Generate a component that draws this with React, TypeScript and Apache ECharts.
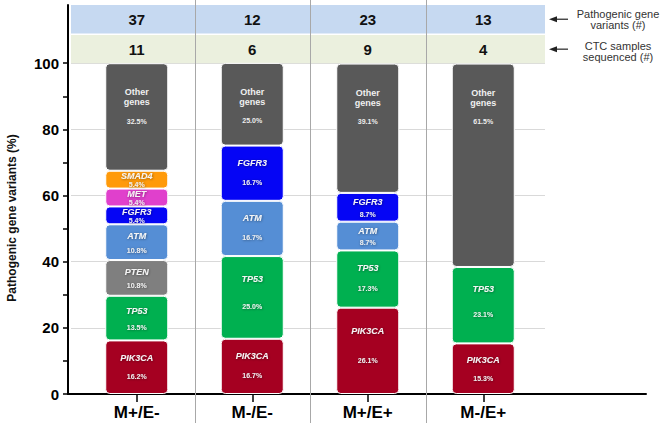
import React, { useEffect, useRef } from 'react';
import * as echarts from 'echarts';

// ---------- data ----------
const categories = ['M+/E-', 'M-/E-', 'M+/E+', 'M-/E+'];
const pathogenicVariants = [37, 12, 23, 13];
const ctcSamplesSequenced = [11, 6, 9, 4];

const geneNames = ['PIK3CA', 'TP53', 'PTEN', 'ATM', 'FGFR3', 'MET', 'SMAD4', 'Other genes'];
const pik3ca = [16.2, 16.7, 26.1, 15.3];
const tp53 = [13.5, 25.0, 17.3, 23.1];
const pten = [10.8, null, null, null];
const atm = [10.8, 16.7, 8.7, null];
const fgfr3 = [5.4, 16.7, 8.7, null];
const met = [5.4, null, null, null];
const smad4 = [5.4, null, null, null];
const otherGenes = [32.5, 25.0, 39.1, 61.5];
const geneValues = [pik3ca, tp53, pten, atm, fgfr3, met, smad4, otherGenes];
const geneColors = ['#a50021', '#00b050', '#7f7f7f', '#558ed5', '#0505f5', '#e040cc', '#ff9a0a', '#595959'];

const yTickLabels = [0, 20, 40, 60, 80, 100];
const yMinorTicks = [0, 10, 20, 30, 40, 50, 60, 70, 80, 90, 100];

// ---------- layout constants ----------
const Y_MAX = 117.6;
const CTC_BAND = [100, 108.5];
const PATH_BAND = [109.0, Y_MAX];
const FONT = 'Liberation Sans, Arial, Helvetica, sans-serif';

function geneItem(gene: string, v: number | null) {
  if (v == null) return '-';
  if (gene === 'Other genes') return { value: v };
  const gap = v + 3;
  const L = Math.max(2 * (gap - 5), 7);
  const pctOff = Math.min(9.5, gap / 2 + 1);
  return {
    value: v,
    label: {
      offset: [0, pctOff - 5],
      rich: {
        n: { fontSize: 9, fontStyle: 'italic', fontWeight: 'bold', lineHeight: 10, color: '#f4f4f4', fontFamily: FONT,
             textShadowColor: 'rgba(0,0,0,0.45)', textShadowBlur: 2, textShadowOffsetX: 0.5, textShadowOffsetY: 0.5 },
        p: { fontSize: 7, fontWeight: 'bold', lineHeight: L, color: '#eeeeee', fontFamily: FONT,
             textShadowColor: 'rgba(0,0,0,0.45)', textShadowBlur: 2, textShadowOffsetX: 0.5, textShadowOffsetY: 0.5 },
      },
    },
  };
}

export default function App() {
  const ref = useRef<HTMLDivElement>(null);

  useEffect(() => {
    const el = ref.current!;
    const chart = echarts.init(el, null, { renderer: 'svg' });

    const barSeries = geneNames.map((gene, gi) => {
      const isOther = gene === 'Other genes';
      return {
        type: 'bar',
        name: gene,
        xAxisIndex: 2,
        yAxisIndex: 2,
        stack: 'genes',
        barWidth: 63,
        z: 3,
        itemStyle: { color: geneColors[gi], borderRadius: 4, borderColor: '#ffffff', borderWidth: 1 },
        label: isOther
          ? {
              show: true,
              position: 'insideTop',
              distance: 24,
              formatter: (p: any) => `{o|Other}\n{o|genes}\n{p|${Number(p.value).toFixed(1)}%}`,
              rich: {
                o: { fontSize: 9, fontWeight: 'bold', lineHeight: 10, color: '#f0f0f0', fontFamily: FONT },
                p: { fontSize: 7, fontWeight: 'bold', lineHeight: 28, color: '#eeeeee', fontFamily: FONT },
              },
            }
          : {
              show: true,
              position: 'inside',
              formatter: (p: any) => `{n|${p.seriesName}}\n{p|${Number(p.value).toFixed(1)}%}`,
            },
        data: geneValues[gi].map((v) => geneItem(gene, v)),
      };
    });

    const countSeries = (counts: number[], band: number[]) => ({
      type: 'scatter',
      xAxisIndex: 2,
      yAxisIndex: 2,
      symbolSize: 2,
      itemStyle: { color: 'transparent', opacity: 1 },
      emphasis: { disabled: true },
      z: 5,
      silent: true,
      label: {
        show: true, position: 'inside', opacity: 1, textBorderWidth: 0,
        formatter: (p: any) => `{c|${p.value[2]}}`,
        rich: { c: { fontSize: 15, fontWeight: 'bold', color: '#111111', fontFamily: FONT } },
      },
      data: counts.map((v, i) => [i, (band[0] + band[1]) / 2, v]),
    });

    const option: any = {
      animation: false,
      textStyle: { fontFamily: FONT },
      grid: [
        { left: 68, right: 14, top: 5, bottom: 29, containLabel: false, outerBoundsMode: 'none' },
        { left: 71, right: 115, top: 5, bottom: 29, containLabel: false, outerBoundsMode: 'none' },
        { left: 79, right: 119, top: 5, bottom: 29, containLabel: false, outerBoundsMode: 'none' },
      ],
      xAxis: [
        {
          type: 'value', gridIndex: 0, min: 0, max: 1,
          axisLine: { show: true, onZero: false, lineStyle: { color: '#000', width: 2 } },
          axisTick: { show: false }, axisLabel: { show: false }, splitLine: { show: false },
        },
        {
          type: 'value', gridIndex: 1, min: 0, max: 1,
          axisLine: { show: false }, axisTick: { show: false }, axisLabel: { show: false }, splitLine: { show: false },
        },
        {
          type: 'category', gridIndex: 2, data: categories,
          axisLine: { show: false },
          axisTick: { show: true, alignWithLabel: true, length: 8, lineStyle: { color: '#000', width: 1.5 } },
          axisLabel: { fontSize: 17, fontWeight: 'bold', color: '#000', margin: 10, fontFamily: FONT },
          splitLine: { show: false },
        },
      ],
      yAxis: [
        {
          type: 'value', gridIndex: 0, min: 0, max: Y_MAX,
          axisLine: { show: true, onZero: false, lineStyle: { color: '#000', width: 2 } },
          axisTick: { show: true, length: 5, customValues: yMinorTicks, lineStyle: { color: '#000', width: 1.5 } },
          axisLabel: { show: true, customValues: yTickLabels, fontSize: 15, fontWeight: 'bold', color: '#000', margin: 9, fontFamily: FONT },
          splitLine: { show: false },
        },
        {
          type: 'value', gridIndex: 1, min: 0, max: Y_MAX, interval: 20,
          axisLine: { show: false }, axisTick: { show: false }, axisLabel: { show: false },
          splitLine: { show: true, showMinLine: false, showMaxLine: false, lineStyle: { color: '#d9d9d9', width: 1 } },
        },
        { type: 'value', gridIndex: 2, min: 0, max: Y_MAX, show: false },
      ],
      series: [
        {
          type: 'line',
          xAxisIndex: 1,
          yAxisIndex: 1,
          data: [[0, 0]],
          showSymbol: false,
          lineStyle: { opacity: 0 },
          silent: true,
          z: 1,
          markArea: {
            silent: true,
            z: 1,
            data: [
              [{ yAxis: PATH_BAND[0], itemStyle: { color: '#c6d9f1', opacity: 1 } }, { yAxis: PATH_BAND[1] }],
              [{ yAxis: CTC_BAND[0], itemStyle: { color: '#ebf0de', opacity: 1 } }, { yAxis: CTC_BAND[1] }],
            ],
          },
        },
        ...barSeries,
        countSeries(pathogenicVariants, PATH_BAND),
        countSeries(ctcSamplesSequenced, CTC_BAND),
      ],
    };

    chart.setOption(option);

    // separators between categories, computed from the category axis
    const centers = categories.map((_, i) => chart.convertToPixel({ xAxisIndex: 2 }, i) as number);
    const seps: any[] = [];
    for (let i = 0; i < centers.length - 1; i++) {
      const x = Math.round((centers[i] + centers[i + 1]) / 2) + 0.5;
      seps.push({ type: 'line', z: 50, silent: true, shape: { x1: x, y1: 0, x2: x, y2: 423 }, style: { stroke: '#a8a8a8', lineWidth: 1 } });
    }
    const yPath = chart.convertToPixel({ yAxisIndex: 1 }, (PATH_BAND[0] + PATH_BAND[1]) / 2) as number;
    const yCtc = chart.convertToPixel({ yAxisIndex: 1 }, (CTC_BAND[0] + CTC_BAND[1]) / 2) as number;
    const arrow = (y: number) => [
      { type: 'polygon', z: 50, silent: true, shape: { points: [[549, y], [557, y - 3], [557, y + 3]] }, style: { fill: '#222' } },
      { type: 'line', z: 50, silent: true, shape: { x1: 556, y1: y, x2: 568, y2: y }, style: { stroke: '#222', lineWidth: 1.2 } },
    ];
    chart.setOption({
      graphic: [
        ...seps,
        ...arrow(yPath),
        ...arrow(yCtc),
        { type: 'text', z: 50, silent: true, x: 618, y: yPath, style: { text: 'Pathogenic gene\nvariants (#)', fontSize: 11, lineHeight: 11, fill: '#333', align: 'center', verticalAlign: 'middle', fontFamily: FONT } },
        { type: 'text', z: 50, silent: true, x: 618, y: yCtc + 2, style: { text: 'CTC samples\nsequenced (#)', fontSize: 11, lineHeight: 11, fill: '#333', align: 'center', verticalAlign: 'middle', fontFamily: FONT } },
        { type: 'text', z: 50, silent: true, x: 12, y: 218, rotation: Math.PI / 2, style: { text: 'Pathogenic gene variants (%)', fontSize: 12, fontWeight: 'bold', fill: '#111', align: 'center', verticalAlign: 'middle', fontFamily: FONT } },
      ],
    });

    return () => chart.dispose();
  }, []);

  return <div ref={ref} style={{ position: 'absolute', left: 0, top: 0, width: 660, height: 423 }} />;
}
